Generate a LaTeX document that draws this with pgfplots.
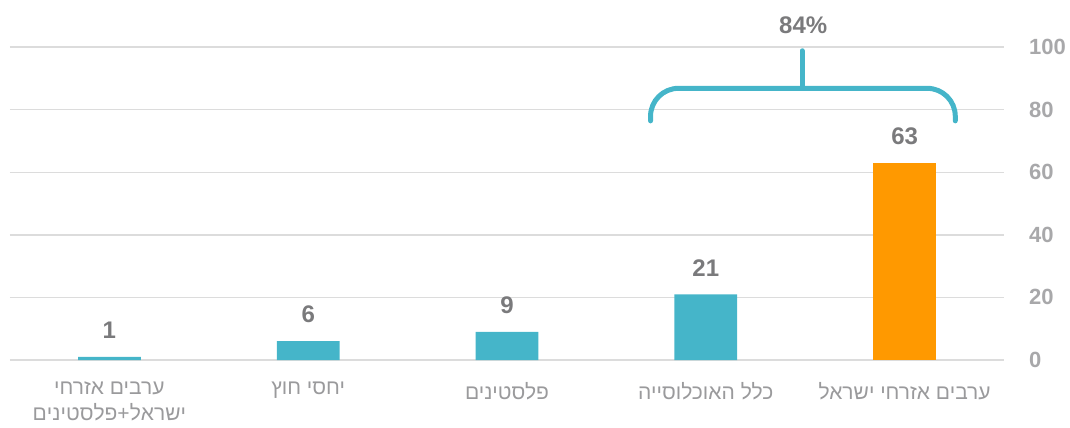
\documentclass[border=0pt]{standalone}
\usepackage{fontspec}
\setmainfont{Liberation Sans}
\newfontfamily\heb[Script=Hebrew]{Liberation Sans}
\TeXXeTstate=1
\usepackage{pgfplots}
\pgfplotsset{compat=1.18}
\definecolor{tealbar}{HTML}{45B5C9}
\definecolor{orangebar}{HTML}{FF9900}
\definecolor{valgrey}{HTML}{7A7A7C}
\definecolor{tickgrey}{HTML}{A8A8AA}
\definecolor{labgrey}{HTML}{9A9A9C}
\definecolor{gridgrey}{HTML}{DCDCDC}
\begin{document}
\begin{tikzpicture}
\useasboundingbox (-5pt,-34pt) rectangle (530pt,180pt);
\begin{axis}[
  at={(0,0)}, anchor=south west,
  scale only axis,
  width=497pt, height=156.5pt,
  xmin=-0.5, xmax=4.5,
  ymin=0, ymax=100,
  clip=false,
  axis line style={draw=none},
  major tick length=0pt,
  ymajorgrids,
  grid style={gridgrey, line width=0.7pt},
  ytick={0,20,40,60,80,100},
  yticklabel pos=right,
  yticklabel style={anchor=west, xshift=9pt, font=\fontsize{11}{13}\selectfont\bfseries, text=tickgrey},
  /pgf/number format/assume math mode=true,
  xtick={0,1,2,3,4},
  xticklabels={
    {\heb\beginR ערבים אזרחי\endR\\\beginR ישראל+פלסטינים\endR},
    {\heb\beginR יחסי חוץ\endR},
    {\heb\beginR פלסטינים\endR},
    {\heb\beginR כלל האוכלוסייה\endR},
    {\heb\beginR ערבים אזרחי ישראל\endR}},
  xticklabel style={align=center, font=\fontsize{10.5}{13}\selectfont, text=labgrey, anchor=north, yshift=-7.5pt},
  ybar, bar width=31.35pt, bar shift=0pt,
  nodes near coords,
  every node near coord/.append style={font=\fontsize{12}{14}\selectfont\bfseries, text=valgrey, yshift=5.5pt},
]
\addplot[draw=none, fill=tealbar] coordinates {(0,1) (1,6) (2,9) (3,21)};
\addplot[draw=none, fill=orangebar] coordinates {(4,63)};
\draw[tealbar, line width=2.5pt, rounded corners=14pt, line cap=round]
  (axis cs:2.722,76.4) -- (axis cs:2.722,86.8) -- (axis cs:4.255,86.8) -- (axis cs:4.255,76.4);
\draw[tealbar, line width=2.5pt, line cap=round] (axis cs:3.484,86.8) -- (axis cs:3.484,98.8);
\node[font=\fontsize{12}{14}\selectfont\bfseries, text=valgrey] at (axis cs:3.49,107) {84\%};
\end{axis}
\end{tikzpicture}
\end{document}
